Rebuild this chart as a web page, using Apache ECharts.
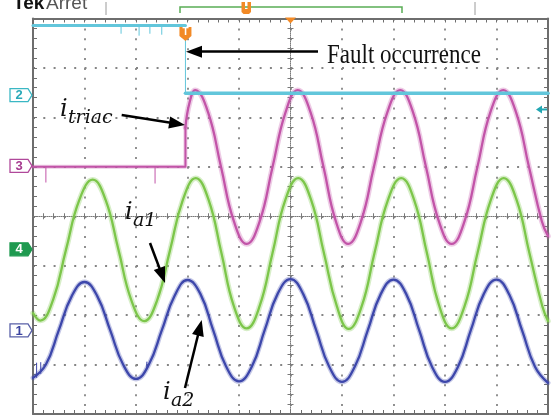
<!DOCTYPE html>
<html><head><meta charset="utf-8">
<script src="https://cdn.jsdelivr.net/npm/echarts@6/dist/echarts.min.js"></script>
<style>
html,body{margin:0;padding:0;background:#fff}
#wrap{position:relative;width:554px;height:416px}
#frame,#c{position:absolute;left:0;top:0;width:554px;height:416px}
</style>
</head><body><div id="wrap"><div id="frame"></div><div id="c"></div></div>
<script>
// ---- data (x in time divisions, y in vertical divisions) ----
const triggerX = -2.04;
const cyanX = [-5, -2.04, -2.04, 5];
const cyanY = [3.86, 3.86, 2.49, 2.49];
const magentaPreX = [-5, -2.04, -2.04];
const magentaPreY = [1.0, 1.0, 1.8];
const magentaX = [-2.04, -1.96, -1.85, -1.6, -1.35, -1.1, -0.85, -0.6, -0.35, -0.1, 0.14, 0.39, 0.64, 0.88, 1.12, 1.37, 1.62, 1.88, 2.13, 2.38, 2.63, 2.88, 3.13, 3.38, 3.63, 3.88, 4.13, 4.38, 4.63, 4.88, 5];
const magentaY = [1.8, 2.30, 2.55, 2.10, 1.0, -0.10, -0.56, -0.11, 0.99, 2.09, 2.55, 2.10, 1.0, -0.10, -0.56, -0.10, 1.0, 2.10, 2.55, 2.10, 1.0, -0.10, -0.56, -0.10, 1.0, 2.10, 2.55, 2.10, 1.0, -0.10, -0.40];
const greenX = [-5, -4.86, -4.61, -4.36, -4.1, -3.84, -3.59, -3.34, -3.09, -2.84, -2.59, -2.34, -2.09, -1.84, -1.59, -1.34, -1.1, -0.85, -0.6, -0.35, -0.1, 0.15, 0.4, 0.65, 0.9, 1.13, 1.38, 1.63, 1.89, 2.15, 2.4, 2.65, 2.89, 3.13, 3.38, 3.63, 3.89, 4.14, 4.39, 4.64, 4.89, 5];
const greenY = [-1.96, -2.11, -1.69, -0.68, 0.33, 0.74, 0.33, -0.68, -1.70, -2.12, -1.70, -0.69, 0.33, 0.77, 0.33, -0.75, -1.82, -2.27, -1.82, -0.75, 0.33, 0.77, 0.33, -0.75, -1.82, -2.28, -1.83, -0.75, 0.32, 0.77, 0.33, -0.75, -1.82, -2.27, -1.82, -0.75, 0.33, 0.77, 0.33, -0.75, -1.82, -2.12];
const blueX = [-5, -4.75, -4.5, -4.25, -4, -3.75, -3.5, -3.25, -3, -2.75, -2.5, -2.25, -2, -1.75, -1.5, -1.25, -1, -0.75, -0.5, -0.25, 0, 0.25, 0.5, 0.75, 1, 1.25, 1.5, 1.75, 2, 2.25, 2.5, 2.75, 3, 3.25, 3.5, 3.75, 4, 4.25, 4.5, 4.75, 5];
const blueY = [-3.27, -3.00, -2.31, -1.62, -1.33, -1.62, -2.31, -3.00, -3.29, -3.00, -2.31, -1.61, -1.29, -1.57, -2.31, -3.04, -3.34, -3.04, -2.30, -1.57, -1.27, -1.58, -2.31, -3.04, -3.35, -3.04, -2.31, -1.58, -1.28, -1.58, -2.31, -3.05, -3.35, -3.05, -2.31, -1.58, -1.28, -1.59, -2.32, -3.05, -3.37];
// noise spikes: x, trace level, spike tip
const cyanSpikeX = [-3.29, -2.94, -2.73, -2.50];
const cyanSpikeBase = [3.86, 3.86, 3.86, 3.86];
const cyanSpikeTip = [3.70, 3.66, 3.70, 3.68];
const magentaSpikeX = [-4.75, -2.63];
const magentaSpikeBase = [1.0, 1.0];
const magentaSpikeTip = [0.69, 0.67];
const blueSpikeX = [-4.93, -4.85, -2.79];
const blueSpikeBase = [-3.26, -3.18, -3.09];
const blueSpikeTip = [-2.97, -2.96, -2.95];
// channel reference levels (ch1..ch4) and ch2 trigger level
const channelNames = ['1', '2', '3', '4'];
const channelLevels = [-2.31, 2.45, 1.02, -0.67];
const ch2TriggerLevel = 2.16;
// annotations (arrow tail -> arrowhead centre)
const arrowFrom = [[0.534, 3.328], [-3.278, 2.048], [-2.728, -0.541], [-2.049, -3.474]];
const arrowTo = [[-1.874, 3.328], [-2.202, 1.871], [-2.491, -1.198], [-1.761, -2.256]];
const faultText = 'Fault occurrence';
const faultAnchor = [0.709, 3.094];
const mathMain = ['i', 'i', 'i'];
const mathSub = ['triac', 'a1', 'a2'];
const mathAnchor = [[-4.476, 2.007], [-3.214, -0.076], [-2.476, -3.716]];

// ---- style ----
const C = {cyan:'#62c6db', magenta:'#c254a8', green:'#7cc64a', blue:'#3d47ab', orange:'#f28a26',
  grid:'#858585', border:'#6e6e6e', center:'#7a7a7a'};
const GB = {left:33, right:6, top:18.5, bottom:2};
const W = 554, H = 416;
const GW = W - GB.left - GB.right, GH = H - GB.top - GB.bottom;
const xStep = GW / 50, yStep = GH / 40;
const centerX = GB.left + GW / 2, centerY = GB.top + GH / 2;

function pairs(xs, ys){ return xs.map((x,i)=>[x, ys[i]]); }
function spikes(xs, b, t){ const d=[]; xs.forEach((x,i)=>{d.push([x,b[i]],[x,t[i]],[x,'-']);}); return d; }

// ===== chart 1: graticule (frame, dotted grid, ticks, centre cross) =====
function frameAxis(pos, isX, split, onZero, lineType, color){
  const a = {type:'value', gridIndex:0, position:pos, min:isX?-5:-4, max:isX?5:4, interval:1,
    axisLine:{show:true, onZero:onZero, lineStyle:{color:color, width:onZero?1:2, type:lineType}},
    axisTick:{show:false}, minorTick:{show:false}, axisLabel:{show:false},
    splitLine:{show:split, lineStyle:{color:C.grid, width:1.8, type: isX ? [2, yStep-2] : [2, xStep-2]}}
  };
  if (onZero) a.axisLine.onZeroAxisIndex = 0;
  return a;
}
const strips = [
  {box:{left:GB.left, width:GW, top:GB.top, height:4}, dim:'x', color:C.border},
  {box:{left:GB.left, width:GW, top:H-GB.bottom-4, height:4}, dim:'x', color:C.border},
  {box:{left:GB.left, width:4, top:GB.top, height:GH}, dim:'y', color:C.border},
  {box:{left:W-GB.right-4, width:4, top:GB.top, height:GH}, dim:'y', color:C.border},
  {box:{left:GB.left, width:GW, top:centerY-3, height:6}, dim:'x', color:C.center},
  {box:{left:centerX-3, width:6, top:GB.top, height:GH}, dim:'y', color:C.center}
];
function stripAxis(k, isX, active, color){
  return {type:'value', gridIndex:k, min:isX?-5:-4, max:isX?5:4, interval:0.2,
    axisLine:{show:false}, axisTick:{show:false}, axisLabel:{show:false},
    splitLine:{show:active, lineStyle:{color:color, width:1, type:'solid'}}};
}
const grids = [{left:GB.left, right:GB.right, top:GB.top, bottom:GB.bottom, containLabel:false}];
const xAxes = [
  frameAxis('bottom', true, true, false, 'solid', C.border),
  frameAxis('top', true, false, false, 'solid', C.border),
  frameAxis('bottom', true, false, true, [1,1], C.center)
];
const yAxes = [
  frameAxis('left', false, true, false, 'solid', C.border),
  frameAxis('right', false, false, false, 'solid', C.border),
  frameAxis('left', false, false, true, [1,1], C.center)
];
strips.forEach((s, i) => {
  const k = i + 1;
  grids.push(Object.assign({containLabel:false}, s.box));
  xAxes.push(stripAxis(k, true, s.dim === 'x', s.color));
  yAxes.push(stripAxis(k, false, s.dim === 'y', s.color));
});
const frameChart = echarts.init(document.getElementById('frame'), null, {width:W, height:H});
frameChart.setOption({animation:false, grid:grids, xAxis:xAxes, yAxis:yAxes,
  series:[{type:'line', data:[], xAxisIndex:0, yAxisIndex:0, silent:true}]});

// ===== chart 2: traces, annotations and scope markers (transparent overlay) =====
function trace(data, color, width, smooth, z, opacity){
  return {type:'line', data, xAxisIndex:0, yAxisIndex:0, showSymbol:false, symbol:'none',
    smooth: smooth ? 0.45 : false, silent:true, z:z,
    lineStyle:{color, width, opacity: opacity==null?1:opacity, cap:'round', join:'round'}};
}
const chart = echarts.init(document.getElementById('c'), null, {width:W, height:H});

const cyanPre = pairs(cyanX.slice(0,2), cyanY.slice(0,2));
const cyanJump = pairs(cyanX.slice(1,3), cyanY.slice(1,3));
const cyanPost = pairs(cyanX.slice(2), cyanY.slice(2));
const magPre = pairs(magentaPreX, magentaPreY);
const mag = pairs(magentaX, magentaY);
const grn = pairs(greenX, greenY);
const blu = pairs(blueX, blueY);

const series = [
  trace(blu, C.blue, 5, true, 2, 0.3), trace(blu, C.blue, 2.3, true, 3),
  trace(spikes(blueSpikeX, blueSpikeBase, blueSpikeTip), C.blue, 1, false, 3),
  trace(grn, C.green, 5.5, true, 4, 0.3), trace(grn, C.green, 2.3, true, 5),
  trace(magPre, C.magenta, 4, false, 6, 0.3), trace(magPre, C.magenta, 2, false, 7),
  trace(mag, C.magenta, 5.5, true, 6, 0.3), trace(mag, C.magenta, 2.3, true, 7),
  trace(spikes(magentaSpikeX, magentaSpikeBase, magentaSpikeTip), C.magenta, 1, false, 7),
  trace(cyanPre, C.cyan, 3, false, 8), trace(cyanJump, C.cyan, 1, false, 8),
  trace(cyanPost, C.cyan, 3.5, false, 8),
  trace(spikes(cyanSpikeX, cyanSpikeBase, cyanSpikeTip), C.cyan, 1, false, 8)
];
series[0].markLine = {
  silent:true, symbol:['none','triangle'], symbolSize:[12,16], label:{show:false},
  lineStyle:{color:'#000', width:2.5, type:'solid'}, emphasis:{disabled:true}, z:20,
  data: arrowFrom.map((f,i)=>[{coord:f},{coord:arrowTo[i]}])
};

chart.setOption({animation:false,
  grid:{left:GB.left, right:GB.right, top:GB.top, bottom:GB.bottom, containLabel:false},
  xAxis:{type:'value', min:-5, max:5, interval:1, show:false},
  yAxis:{type:'value', min:-4, max:4, interval:1, show:false},
  series});

const P = (x,y) => chart.convertToPixel({seriesIndex:1}, [x,y]);
const g = [];
// header
g.push({type:'text', x:13, y:4, style:{text:'Tek', font:'bold 19px "Liberation Sans"', fill:'#111', verticalAlign:'middle'}});
g.push({type:'text', x:46, y:4, style:{text:'Arret', font:'19px "Liberation Sans"', fill:'#555', verticalAlign:'middle'}});
g.push({type:'line', shape:{x1:106,y1:2,x2:106,y2:15}, style:{stroke:'#9a9a9a', lineWidth:1}});
g.push({type:'line', shape:{x1:475,y1:2,x2:475,y2:15}, style:{stroke:'#9a9a9a', lineWidth:1}});
g.push({type:'polyline', shape:{points:[[180,13],[180,7],[402,7],[402,13]]}, style:{stroke:'#5aad55', lineWidth:1.5, fill:null}});
g.push({type:'polygon', shape:{points:[[241.5,2],[245,2],[245,9],[247.5,9],[247.5,2],[251,2],[251,12],[249,14],[243.5,14],[241.5,12]]}, style:{fill:C.orange}});
const cTop = P(0, 4);
g.push({type:'polygon', shape:{points:[[cTop[0]-5.5,cTop[1]-1],[cTop[0]+5.5,cTop[1]-1],[cTop[0],cTop[1]+5]]}, style:{fill:C.orange}, z:30});
// trigger marker
const tp = P(triggerX, 4);
g.push({type:'polygon', shape:{points:[[tp[0]-6,27],[tp[0]+6,27],[tp[0]+6,36],[tp[0],41],[tp[0]-6,36]]}, style:{fill:C.orange}, z:30});
g.push({type:'text', x:tp[0], y:32.5, style:{text:'T', font:'bold 10px "Liberation Sans"', fill:'#fff', align:'center', verticalAlign:'middle'}, z:31});
// ch2 trigger level arrow (right)
const ar = P(5, ch2TriggerLevel);
g.push({type:'line', shape:{x1:ar[0]-1,y1:ar[1],x2:ar[0]-8,y2:ar[1]}, style:{stroke:'#22a7b3', lineWidth:2}, z:30});
g.push({type:'polygon', shape:{points:[[ar[0]-12,ar[1]],[ar[0]-6,ar[1]-4],[ar[0]-6,ar[1]+4]]}, style:{fill:'#22a7b3'}, z:30});
// channel tags
const tagStyle = [
  {stroke:'#5960a8', fill:'#fff', text:'#3b44a0'},
  {stroke:'#3ab7c4', fill:'#fff', text:'#2aa9b8'},
  {stroke:'#b0489a', fill:'#fff', text:'#a63a8f'},
  {stroke:'#1f9a50', fill:'#1f9a50', text:'#fff'}
];
channelLevels.forEach((lv,i)=>{
  const y = P(-5, lv)[1];
  const s = tagStyle[i];
  g.push({type:'polygon', shape:{points:[[10,y-6.5],[28,y-6.5],[32,y],[28,y+6.5],[10,y+6.5]]}, style:{fill:s.fill, stroke:s.stroke, lineWidth:1.3}, z:30});
  g.push({type:'text', x:19, y:y+0.5, style:{text:channelNames[i], font:'bold 13px "Liberation Sans"', fill:s.text, align:'center', verticalAlign:'middle'}, z:31});
});
// annotation texts
const fa = P(faultAnchor[0], faultAnchor[1]);
g.push({type:'text', x:fa[0], y:fa[1]-7, scaleY:1.15, style:{text:faultText, font:'23px "Liberation Serif"', fill:'#111', verticalAlign:'middle'}, z:40});
mathAnchor.forEach((a,i)=>{
  const p = P(a[0], a[1]);
  g.push({type:'text', x:p[0], y:p[1]-7, style:{text:mathMain[i], font:'italic 24px "DejaVu Serif"', fill:'#111', verticalAlign:'middle'}, z:40});
  g.push({type:'text', x:p[0]+8, y:p[1]+1, style:{text:mathSub[i], font:'italic 19px "DejaVu Serif"', fill:'#111', verticalAlign:'middle'}, z:40});
});
chart.setOption({graphic:g});
</script></body></html>
